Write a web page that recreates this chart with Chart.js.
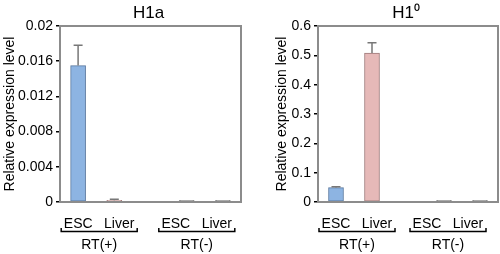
<!DOCTYPE html>
<html>
<head>
<meta charset="utf-8">
<script src="https://cdn.jsdelivr.net/npm/chart.js@4.4.1/dist/chart.umd.min.js"></script>
<style>
  body { margin: 0; background: #fff; }
  .wrap { display: flex; width: 500px; height: 254px; }
  canvas { display: block; }
</style>
</head>
<body>
<div class="wrap">
  <canvas id="h1a" width="250" height="254"></canvas>
  <canvas id="h10" width="250" height="254"></canvas>
</div>
<script>
// categories (middle slot is the gap between RT(+) and RT(-))
var categories = ["ESC", "Liver", "", "ESC", "Liver"];
var groups = ["RT(+)", "RT(-)"];
var groupIdx = [[0, 1], [3, 4]];

var h1aValues = [0.0155, 0.0002, null, 0.00001, 0.00001];
var h1aErrors = [0.0023, 0.0001, null, 0, 0];
var h1aTicks = [0, 0.004, 0.008, 0.012, 0.016, 0.02];
var h1aTickLabels = ["0", "0.004", "0.008", "0.012", "0.016", "0.02"];

var h10Values = [0.049, 0.508, null, 0.0003, 0.0003];
var h10Errors = [0.003, 0.035, null, 0, 0];
var h10Ticks = [0, 0.1, 0.2, 0.3, 0.4, 0.5, 0.6];
var h10TickLabels = ["0", "0.1", "0.2", "0.3", "0.4", "0.5", "0.6"];

var barColors = ["#8db4e2", "#e6b9b8", "#8db4e2", "#555555", "#555555"];
var barBorders = ["#56769e", "#9e7a7a", "#56769e", "#555555", "#555555"];

var FONT = "'Liberation Sans', Arial, sans-serif";
Chart.defaults.font.family = FONT;
Chart.defaults.color = "#000";

// frame, title, error bars and group brackets
var extras = {
  id: "extras",
  afterDatasetsDraw: function(chart, args, opts) {
    var c = chart.ctx, a = chart.chartArea, y = chart.scales.y, x = chart.scales.x;
    // error bars
    var meta = chart.getDatasetMeta(0);
    c.save();
    c.strokeStyle = "#777";
    c.lineWidth = 1.5;
    meta.data.forEach(function(el, i) {
      var v = opts.values[i], e = opts.errors[i];
      if (v == null || !e) return;
      var yt = y.getPixelForValue(v + e);
      c.beginPath();
      c.moveTo(el.x, el.y);
      c.lineTo(el.x, yt);
      c.moveTo(el.x - 4.5, yt);
      c.lineTo(el.x + 4.5, yt);
      c.stroke();
    });
    // frame
    c.strokeStyle = "#8c8c8c";
    c.lineWidth = 2;
    c.strokeRect(a.left, a.top, a.right - a.left, a.bottom - a.top);
    // title
    c.fillStyle = "#000";
    c.textAlign = "center";
    c.textBaseline = "alphabetic";
    c.font = "17px " + FONT;
    c.fillText(opts.title, (a.left + a.right) / 2 - 2, 18);
    // group labels and brackets
    c.font = "14px " + FONT;
    c.strokeStyle = "#000";
    c.lineWidth = 1.5;
    groups.forEach(function(g, k) {
      var idx = groupIdx[k];
      var cx = 0;
      idx.forEach(function(i) { cx += x.getPixelForValue(i); });
      cx = cx / idx.length + opts.shift[k];
      c.fillText(categories[idx[0]], cx - 21, 228);
      c.fillText(categories[idx[1]], cx + 20, 228);
      c.beginPath();
      c.moveTo(cx - 38, 228);
      c.lineTo(cx - 38, 231.5);
      c.lineTo(cx + 38, 231.5);
      c.lineTo(cx + 38, 228);
      c.stroke();
      c.fillText(g, cx, 249);
    });
    c.restore();
  }
};

function makeChart(id, values, errors, ticks, tickLabels, yMax, title, axisW, padLeft, padRight, shift) {
  return new Chart(document.getElementById(id).getContext("2d"), {
    type: "bar",
    data: {
      labels: categories,
      datasets: [{
        data: values,
        backgroundColor: barColors,
        borderColor: barBorders,
        borderWidth: 1,
        borderSkipped: false,
        barThickness: 15,
        minBarLength: 1.5
      }]
    },
    options: {
      responsive: false,
      animation: false,
      layout: { padding: { top: 26, bottom: 52, left: padLeft, right: padRight } },
      plugins: {
        legend: { display: false },
        tooltip: { enabled: false },
        extras: { values: values, errors: errors, title: title, shift: shift }
      },
      scales: {
        x: { display: false },
        y: {
          min: 0,
          max: yMax,
          afterBuildTicks: function(s) { s.ticks = ticks.map(function(v) { return { value: v }; }); },
          afterFit: function(s) { s.width = axisW; },
          ticks: {
            padding: 3,
            font: { size: 14 },
            color: "#000",
            callback: function(v) { return tickLabels[ticks.indexOf(v)]; }
          },
          grid: { drawOnChartArea: false, drawTicks: true, tickLength: 4, color: "#000", lineWidth: 1.5 },
          border: { display: false },
          title: { display: true, text: "Relative expression level", font: { size: 14 }, color: "#000", padding: { top: 2, bottom: 2 } }
        }
      }
    },
    plugins: [extras]
  });
}

makeChart("h1a", h1aValues, h1aErrors, h1aTicks, h1aTickLabels, 0.02, "H1a", 60, 0, 9, [3, -8]);
makeChart("h10", h10Values, h10Errors, h10Ticks, h10TickLabels, 0.6, "H1\u2070", 46, 22, 2, [3, -14]);
</script>
</body>
</html>
